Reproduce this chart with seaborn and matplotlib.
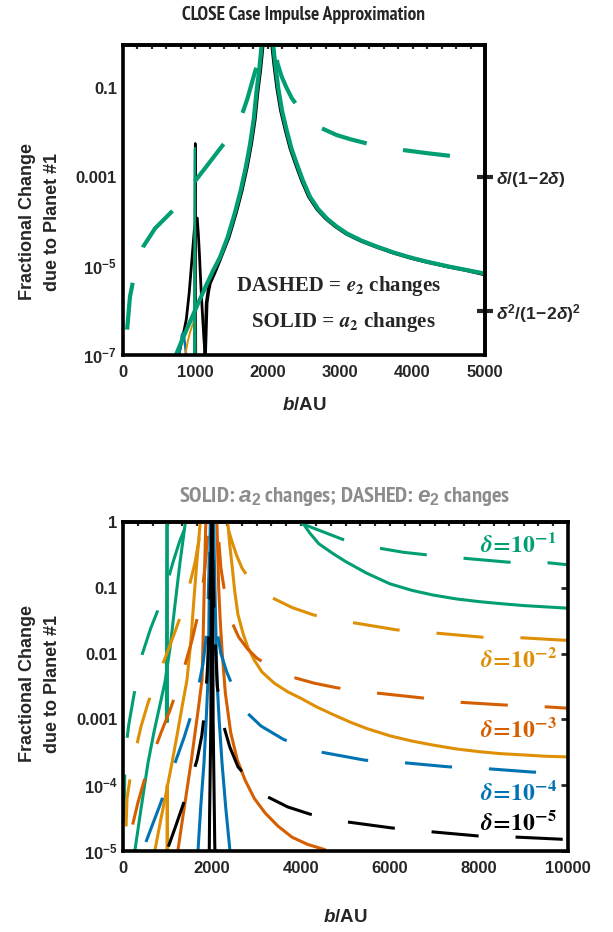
import numpy as np
import pandas as pd
import matplotlib
matplotlib.use("Agg")
import matplotlib.pyplot as plt
from matplotlib import font_manager as fm
import seaborn as sns

# ---------------- DATA (b in AU, values given as log10 of fractional change) -------------
# Top panel : CLOSE case impulse approximation
t_gs_left_b = [724, 800, 900, 1023, 1150, 1250, 1345, 1450, 1550, 1630, 1700, 1760, 1810,
               1850, 1885, 1915, 1928]
t_gs_left_lg = [-7.05, -6.75, -6.37, -5.91, -5.45, -5.10, -4.80, -4.35, -3.80, -3.30, -2.78,
                -2.25, -1.70, -1.05, -0.60, -0.10, 0.05]
t_gs_right_b = [2072, 2080, 2110, 2149, 2200, 2264, 2330, 2402, 2490, 2586, 2700, 2820, 2954,
                3100, 3300, 3506, 3750, 4000, 4196, 4500, 4750, 5000]
t_gs_right_lg = [0.05, -0.05, -0.50, -1.00, -1.50, -1.94, -2.35, -2.69, -3.08, -3.44, -3.72,
                 -3.93, -4.11, -4.27, -4.43, -4.56, -4.70, -4.82, -4.90, -5.01, -5.09, -5.17]
t_ks_left_b = [1138, 1150, 1161, 1185, 1207, 1270, 1345, 1465, 1565, 1645, 1715, 1775, 1825,
               1865, 1900, 1930, 1942]
t_ks_left_lg = [-7.05, -6.40, -5.83, -5.55, -5.38, -5.15, -4.85, -4.35, -3.80, -3.30, -2.78,
                -2.25, -1.70, -1.05, -0.60, -0.10, 0.05]
t_ks_right_b = [2058, 2065, 2095, 2134, 2185, 2249, 2315, 2387, 2475, 2571, 2685, 2805, 2939,
                3085, 3285, 3491, 3735, 3985, 4181, 4485, 4735, 5000]
t_ks_right_lg = [0.05, -0.05, -0.50, -1.00, -1.50, -1.94, -2.35, -2.69, -3.08, -3.44, -3.72,
                 -3.93, -4.11, -4.27, -4.43, -4.56, -4.70, -4.82, -4.90, -5.01, -5.09, -5.19]
t_k_hump_b = [770, 830, 880, 920, 950, 975, 990, 1010, 1030, 1045, 1060, 1080, 1100, 1120, 1140]
t_k_hump_lg = [-7.05, -6.60, -6.20, -5.60, -5.00, -4.50, -4.20, -3.98, -3.92, -4.25, -4.70,
               -5.40, -6.00, -6.55, -7.05]
t_k_spike_b = [992, 1003, 1012]
t_k_spike_lg = [-7.05, -2.24, -7.05]
t_o_spike_b = [860, 900, 930, 960, 980, 995, 1000, 1004]
t_o_spike_lg = [-7.05, -6.70, -6.50, -6.35, -6.25, -5.90, -2.35, -7.05]
t_g_spike_b = [985, 997, 1006]
t_g_spike_lg = [-7.05, -2.35, -7.05]
t_b_hump_b = [780, 800, 820, 835, 850, 865, 880]
t_b_hump_lg = [-7.05, -6.75, -6.55, -6.50, -6.62, -6.80, -7.05]
t_gd_left_b = [20, 34, 60, 103, 180, 287, 450, 701, 900, 1138, 1350, 1598, 1720, 1828, 1900,
               1943, 1960]
t_gd_left_lg = [-7.60, -7.20, -6.50, -5.69, -5.05, -4.56, -4.15, -3.74, -3.30, -2.80, -2.35,
                -1.83, -1.25, -0.63, -0.28, -0.06, 0.05]
t_gd_right_b = [2080, 2140, 2196, 2260, 2334, 2450, 2600, 2748, 2950, 3150, 3368, 3600, 3873,
                4200, 4517, 5000]
t_gd_right_lg = [0.05, -0.45, -0.74, -0.98, -1.22, -1.48, -1.70, -1.90, -2.05, -2.15, -2.24,
                 -2.32, -2.39, -2.46, -2.52, -2.58]

top_xticks = [0, 1000, 2000, 3000, 4000, 5000]
top_yticks = [1e-1, 1e-3, 1e-5, 1e-7]
top_ylabels = ['0.1', '0.001', r'$10^{-5}$', r'$10^{-7}$']
top_rticks = [1.0e-3, 1.0e-6]
top_rlabels = [r'$\delta/(1\!-\!2\delta)$', r'$\delta^2/(1\!-\!2\delta)^2$']

# Bottom panel : five values of delta
delta_names = ['1e-1', '1e-2', '1e-3', '1e-4', '1e-5']
delta_labels = [r'$\delta\!=\!\mathbf{10^{-1}}$', r'$\delta\!=\!\mathbf{10^{-2}}$',
                r'$\delta\!=\!\mathbf{10^{-3}}$', r'$\delta\!=\!\mathbf{10^{-4}}$',
                r'$\delta\!=\!\mathbf{10^{-5}}$']
delta_label_b = [9750, 9750, 9750, 9750, 9750]
delta_label_lg = [-0.35, -2.10, -3.16, -4.12, -4.57]

# solid (a2 changes), left branch
s_left_b = {
    '1e-1': [255, 270, 400, 562, 700, 830, 944, 1060, 1168, 1280, 1393, 1410],
    '1e-2': [700, 720, 850, 980, 1101, 1220, 1330, 1438, 1520, 1596, 1660, 1730, 1740],
    '1e-3': [1220, 1236, 1330, 1430, 1528, 1620, 1700, 1775, 1800, 1820, 1840, 1860, 1868],
    '1e-4': [1675, 1685, 1750, 1820, 1870, 1910, 1928, 1940, 1952, 1960, 1965],
    '1e-5': [1938, 1945, 1975, 1988, 1992],
}
s_left_lg = {
    '1e-1': [-5.05, -4.98, -4.38, -3.66, -3.18, -2.78, -2.43, -1.90, -1.26, -0.62, -0.05, 0.05],
    '1e-2': [-5.05, -4.98, -4.52, -4.08, -3.66, -3.22, -2.80, -2.40, -1.85, -1.16, -0.60,
             -0.05, 0.05],
    '1e-3': [-5.05, -4.98, -4.55, -4.10, -3.66, -3.20, -2.80, -2.40, -1.80, -1.16, -0.55,
             -0.05, 0.05],
    '1e-4': [-5.05, -5.00, -4.30, -3.66, -3.00, -2.40, -1.70, -1.00, -0.50, -0.05, 0.05],
    '1e-5': [-5.05, -4.50, -3.00, -0.50, 0.05],
}
# solid, right branch
s_right_b = {
    '1e-1': [3990, 4045, 4200, 4400, 4719, 5000, 5483, 6000, 6500, 6966, 7500, 8000, 8472,
             9000, 9500, 10000],
    '1e-2': [2330, 2360, 2400, 2449, 2510, 2584, 2700, 2809, 2950, 3124, 3400, 3700, 4000,
             4350, 4700, 5100, 5483, 6000, 6500, 6966, 7500, 8000, 8472, 9000, 9500, 10000],
    '1e-3': [2105, 2112, 2130, 2150, 2185, 2230, 2300, 2420, 2570, 2742, 2950, 3191, 3480,
             3798, 4150, 4539, 4620],
    '1e-4': [2035, 2040, 2050, 2065, 2085, 2112, 2160, 2225, 2310, 2404, 2415],
    '1e-5': [2008, 2012, 2025, 2062, 2068],
}
s_right_lg = {
    '1e-1': [0.05, -0.02, -0.17, -0.33, -0.48, -0.60, -0.78, -0.94, -1.04, -1.11, -1.17,
             -1.21, -1.24, -1.27, -1.29, -1.31],
    '1e-2': [0.05, -0.05, -0.35, -0.65, -1.05, -1.41, -1.70, -1.91, -2.10, -2.28, -2.45,
             -2.58, -2.68, -2.81, -2.92, -3.04, -3.14, -3.25, -3.33, -3.39, -3.45, -3.49,
             -3.52, -3.54, -3.56, -3.57],
    '1e-3': [0.05, -0.05, -0.50, -1.00, -1.50, -2.00, -2.60, -3.20, -3.62, -3.92, -4.20,
             -4.42, -4.62, -4.79, -4.90, -4.98, -5.05],
    '1e-4': [0.05, -0.05, -0.50, -1.00, -1.60, -2.40, -3.00, -3.66, -4.35, -5.00, -5.05],
    '1e-5': [0.05, -0.50, -3.00, -4.90, -5.05],
}
# dashed (e2 changes), left branch
d_left_b = {
    '1e-1': [0, 5, 30, 50, 130, 225, 320, 427, 620, 831, 980, 1124, 1270, 1416, 1430],
    '1e-2': [40, 50, 90, 170, 270, 400, 562, 750, 944, 1140, 1326, 1480, 1618, 1700, 1753,
             1765],
    '1e-3': [100, 112, 210, 337, 480, 652, 850, 1056, 1230, 1393, 1550, 1685, 1780, 1843,
             1890, 1910, 1918],
    '1e-4': [430, 450, 640, 831, 1010, 1191, 1380, 1551, 1690, 1798, 1860, 1900, 1930, 1950,
             1958],
    '1e-5': [990, 1011, 1180, 1348, 1510, 1663, 1770, 1843, 1900, 1940, 1970, 1990, 1995],
}
d_left_lg = {
    '1e-1': [-5.40, -5.00, -4.20, -3.51, -3.08, -2.71, -2.35, -2.02, -1.62, -1.26, -0.95,
             -0.61, -0.30, -0.05, 0.05],
    '1e-2': [-5.05, -5.00, -4.20, -3.85, -3.51, -3.12, -2.75, -2.40, -2.07, -1.72, -1.37,
             -1.00, -0.62, -0.30, -0.05, 0.05],
    '1e-3': [-5.05, -4.98, -4.62, -4.26, -3.92, -3.57, -3.21, -2.86, -2.52, -2.17, -1.80,
             -1.41, -1.05, -0.68, -0.30, -0.05, 0.05],
    '1e-4': [-5.05, -4.98, -4.64, -4.30, -3.96, -3.62, -3.26, -2.89, -2.52, -2.16, -1.80,
             -1.50, -0.80, -0.05, 0.05],
    '1e-5': [-5.05, -4.95, -4.63, -4.30, -3.96, -3.62, -3.25, -2.83, -2.20, -1.50, -0.70,
             -0.05, 0.05],
}
# dashed, right branch
d_right_b = {
    '1e-1': [3980, 4000, 4500, 4920, 5300, 5775, 6300, 6831, 7640, 8652, 9551, 10000],
    '1e-2': [2330, 2337, 2450, 2560, 2674, 2900, 3100, 3348, 3800, 4270, 4700, 5169, 6157,
             7056, 8067, 8966, 10000],
    '1e-3': [2125, 2130, 2165, 2200, 2300, 2404, 2600, 2800, 3011, 3400, 3820, 4300, 4809,
             5708, 6674, 7573, 8539, 9528, 10000],
    '1e-4': [1995, 2000, 2020, 2040, 2100, 2200, 2337, 2500, 2742, 3100, 3596, 4000, 4472,
             5438, 6337, 7303, 8202, 9191, 10000],
    '1e-5': [2000, 2005, 2025, 2050, 2120, 2225, 2400, 2584, 2900, 3258, 3700, 4202, 5056,
             6045, 6966, 7955, 8876, 9820, 10000],
}
d_right_lg = {
    '1e-1': [0.05, -0.02, -0.15, -0.26, -0.34, -0.40, -0.46, -0.50, -0.55, -0.61, -0.62,
             -0.65],
    '1e-2': [0.05, -0.05, -0.30, -0.52, -0.70, -0.93, -1.05, -1.15, -1.30, -1.41, -1.48,
             -1.53, -1.64, -1.69, -1.75, -1.76, -1.80],
    '1e-3': [0.05, -0.05, -0.40, -0.70, -1.13, -1.46, -1.75, -1.93, -2.07, -2.24, -2.36,
             -2.45, -2.52, -2.60, -2.67, -2.74, -2.78, -2.81, -2.83],
    '1e-4': [0.05, -0.05, -0.60, -1.00, -1.60, -2.00, -2.29, -2.55, -2.87, -3.10, -3.30,
             -3.42, -3.50, -3.62, -3.66, -3.72, -3.75, -3.80, -3.82],
    '1e-5': [0.05, -0.05, -0.80, -1.50, -2.50, -3.01, -3.42, -3.72, -3.98, -4.18, -4.33,
             -4.44, -4.56, -4.65, -4.71, -4.77, -4.79, -4.82, -4.83],
}
# narrow spikes at b ~ 1000 AU
b_g_spike1_b = [975, 985]
b_g_spike1_lg = [-3.05, 0.05]
b_g_spike2_b = [1000, 995]
b_g_spike2_lg = [-3.05, 0.05]
b_o_spike_b = [988, 995, 1003]
b_o_spike_lg = [-5.05, -4.0, -5.05]

bot_xticks = [0, 2000, 4000, 6000, 8000, 10000]
bot_yticks = [1, 1e-1, 1e-2, 1e-3, 1e-4, 1e-5]
bot_ylabels = ['1', '0.1', '0.01', '0.001', r'$10^{-4}$', r'$10^{-5}$']

# ---------------- STYLE ----------------
sns.set_style("white")
plt.rcParams.update({
    'font.family': ['Liberation Sans', 'DejaVu Sans'],
    'font.weight': 'bold',
    'mathtext.fontset': 'custom',
    'mathtext.rm': 'Liberation Sans:bold',
    'mathtext.it': 'Liberation Sans:italic:bold',
    'mathtext.bf': 'Liberation Sans:bold',
    'lines.scale_dashes': False,
    'axes.linewidth': 2.6,
    'axes.edgecolor': 'black',
})
pal = sns.color_palette('colorblind')
BLUE, ORANGE, GREEN, VERM, BLACK = pal[0], pal[1], pal[2], pal[3], 'black'
colors = {'1e-1': GREEN, '1e-2': ORANGE, '1e-3': VERM, '1e-4': BLUE, '1e-5': BLACK}
DASH_ON, DASH_OFF = 34.0, 26.6          # points
PX2PT = 72.0 / 100.0

# pixel x (in the 613 px image) where one dash of each dashed curve starts
dash_anchor_px = {
    'top_left': 143, 'top_right': 403,
    'L1e-1': 142, 'L1e-2': 163, 'L1e-3': 185, 'L1e-4': 175, 'L1e-5': 195,
    'R1e-1': 380, 'R1e-2': 353, 'R1e-3': 377, 'R1e-4': 405, 'R1e-5': 348,
}


# condensed bold sans for the panel titles, preferring real "Narrow" faces
def _rank(f):
    n = f.name.lower()
    if n == 'liberation sans narrow':
        return 0
    if 'narrow' in n:
        return 1
    if 'condensed' in n:
        return 2
    if 'condensed' in str(f.stretch):
        return 3
    return 99


cands = [f for f in fm.fontManager.ttflist
         if _rank(f) < 99 and f.style == 'normal'
         and f.weight in (600, 700, 800, 'bold', 'semibold', 'demibold')]
cands.sort(key=_rank)
if cands:
    TITLE_FP = fm.FontProperties(fname=cands[0].fname, size=13)
else:
    TITLE_FP = fm.FontProperties(family='Liberation Sans', weight='bold', size=13)


def draw(ax, b, lg, color, lw, dashed=False, z=2):
    df = pd.DataFrame({'b': b, 'v': np.power(10.0, lg)})
    kw = dict(color=color, lw=lw, zorder=z, solid_capstyle='butt',
              solid_joinstyle='round')
    if dashed:
        kw['linestyle'] = (0, (DASH_ON, DASH_OFF))
        kw['dash_capstyle'] = 'butt'
        kw['dash_joinstyle'] = 'round'
    sns.lineplot(data=df, x='b', y='v', ax=ax, sort=False, estimator=None,
                 legend=False, **kw)
    return ax.lines[-1]


fig = plt.figure(figsize=(6.13, 9.32), dpi=100)
W, H = 613.0, 932.0
ax1 = fig.add_axes([122.5 / W, 1 - 355 / H, 362.5 / W, 310 / H])
ax2 = fig.add_axes([123 / W, 1 - 851 / H, 445 / W, 329 / H])
for ax in (ax1, ax2):
    ax.set_yscale('log')
ax1.set_xlim(0, 5000)
ax1.set_ylim(1e-7, 0.94)
ax2.set_xlim(0, 10000)
ax2.set_ylim(1e-5, 1)

TICK_FS = 12
dashed_lines = {}

# ---------------- TOP PANEL ----------------
LW1 = 3.0
draw(ax1, t_k_hump_b, t_k_hump_lg, BLACK, 2.0)
draw(ax1, t_ks_left_b, t_ks_left_lg, BLACK, 2.6)
draw(ax1, t_ks_right_b, t_ks_right_lg, BLACK, 2.6)
draw(ax1, t_k_spike_b, t_k_spike_lg, BLACK, 1.8)
draw(ax1, t_b_hump_b, t_b_hump_lg, BLUE, 1.8)
draw(ax1, t_o_spike_b, t_o_spike_lg, ORANGE, 1.4)
draw(ax1, t_g_spike_b, t_g_spike_lg, GREEN, 1.4)
draw(ax1, t_gs_left_b, t_gs_left_lg, GREEN, LW1)
draw(ax1, t_gs_right_b, t_gs_right_lg, GREEN, LW1)
dashed_lines['top_left'] = (ax1, draw(ax1, t_gd_left_b, t_gd_left_lg, GREEN, LW1, dashed=True))
dashed_lines['top_right'] = (ax1, draw(ax1, t_gd_right_b, t_gd_right_lg, GREEN, LW1,
                                       dashed=True))

ax1.set_xlim(0, 5000)
ax1.set_ylim(1e-7, 0.94)
ax1.set_xticks(top_xticks)
ax1.set_xticklabels([str(t) for t in top_xticks])
ax1.set_yticks(top_yticks)
ax1.set_yticklabels(top_ylabels)
ax1.yaxis.set_minor_locator(matplotlib.ticker.NullLocator())
ax1.tick_params(axis='both', which='major', direction='in', length=5, width=2,
                labelsize=TICK_FS, top=False, right=False)
ax1.tick_params(axis='x', pad=7)
ax1.tick_params(axis='y', pad=4)
ax1.set_xlabel('')
ax1.set_ylabel('')

sec1 = ax1.secondary_xaxis('top')
sec1.set_xticks(np.arange(0, 5001, 200))
sec1.tick_params(direction='in', length=3, width=1.6, labeltop=False)
sec1.spines['top'].set_linewidth(2.6)

sr1 = ax1.secondary_yaxis('right')
sr1.set_yticks(top_rticks)
sr1.set_yticklabels(top_rlabels)
sr1.yaxis.set_minor_locator(matplotlib.ticker.NullLocator())
sr1.tick_params(direction='inout', length=12, width=3, labelsize=12.5, pad=2)
sr1.spines['right'].set_linewidth(2.6)

ax1.text(3080, 10 ** -5.45, 'DASHED = ', ha='right', va='center', fontsize=15,
         family='Liberation Serif', weight='bold')
ax1.text(3080, 10 ** -5.45, r'$e_{\mathbf{2}}$ changes', ha='left', va='center',
         fontsize=15, family='Liberation Serif', weight='bold', math_fontfamily='stix')
ax1.text(2990, 10 ** -6.25, 'SOLID = ', ha='right', va='center', fontsize=15,
         family='Liberation Serif', weight='bold')
ax1.text(2990, 10 ** -6.25, r'$a_{\mathbf{2}}$ changes', ha='left', va='center',
         fontsize=15, family='Liberation Serif', weight='bold', math_fontfamily='stix')

title1 = fig.text(304 / W, 1 - 15 / H, 'CLOSE Case Impulse Approximation', ha='center',
                  va='center', fontproperties=TITLE_FP.copy())
fig.text(304 / W, 1 - 406 / H, r'$b$/AU', ha='center', va='center', fontsize=13.5,
         weight='bold')
fig.text(40 / W, 1 - 222 / H, 'Fractional Change\ndue to Planet #1', rotation=90,
         ha='center', va='center', fontsize=13, weight='bold', linespacing=1.55)

# ---------------- BOTTOM PANEL ----------------
LW2 = 2.2
for name in delta_names:
    c = colors[name]
    draw(ax2, s_left_b[name], s_left_lg[name], c, LW2)
    draw(ax2, s_right_b[name], s_right_lg[name], c, LW2)
    dashed_lines['L' + name] = (ax2, draw(ax2, d_left_b[name], d_left_lg[name], c, LW2,
                                          dashed=True))
    dashed_lines['R' + name] = (ax2, draw(ax2, d_right_b[name], d_right_lg[name], c, LW2,
                                          dashed=True))
    if name == '1e-1':
        draw(ax2, b_g_spike1_b, b_g_spike1_lg, GREEN, LW2)
        draw(ax2, b_g_spike2_b, b_g_spike2_lg, GREEN, LW2)
    if name == '1e-2':
        draw(ax2, b_o_spike_b, b_o_spike_lg, ORANGE, LW2)

for name, lab, bx, ly in zip(delta_names, delta_labels, delta_label_b, delta_label_lg):
    ax2.text(bx, 10 ** ly, lab, ha='right', va='center', fontsize=17,
             color=colors[name], math_fontfamily='stix')

ax2.set_xlim(0, 10000)
ax2.set_ylim(1e-5, 1)
ax2.set_xticks(bot_xticks)
ax2.set_xticklabels([str(t) for t in bot_xticks])
ax2.set_yticks(bot_yticks)
ax2.set_yticklabels(bot_ylabels)
ax2.yaxis.set_minor_locator(matplotlib.ticker.NullLocator())
ax2.tick_params(axis='both', which='major', direction='in', length=5, width=2,
                labelsize=TICK_FS, top=False, right=True)
ax2.tick_params(axis='x', pad=7)
ax2.tick_params(axis='y', pad=4)
ax2.set_xlabel('')
ax2.set_ylabel('')

sec2 = ax2.secondary_xaxis('top')
sec2.set_xticks(np.arange(0, 10001, 10000 / 30))
sec2.tick_params(direction='in', length=3, width=1.6, labeltop=False)
sec2.spines['top'].set_linewidth(2.6)

title2 = fig.text(345 / W, 1 - 497 / H, r'SOLID: $a_2$ changes; DASHED: $e_2$ changes',
                  ha='center', va='center', fontproperties=TITLE_FP.copy(),
                  color='#8c8c8c')
fig.text(345 / W, 1 - 917 / H, r'$b$/AU', ha='center', va='center', fontsize=13.5,
         weight='bold')
fig.text(40 / W, 1 - 684 / H, 'Fractional Change\ndue to Planet #1', rotation=90,
         ha='center', va='center', fontsize=13, weight='bold', linespacing=1.55)

# fit the two panel titles to the widths they take in the reference
fig.canvas.draw()
rend = fig.canvas.get_renderer()
for t, target in ((title1, 242.0), (title2, 330.0)):
    w = t.get_window_extent(renderer=rend).width
    t.set_fontsize(t.get_fontsize() * target / w)

# set the dash phase of each dashed curve so a dash starts where it does in the reference
period = DASH_ON + DASH_OFF
for key, (ax, line) in dashed_lines.items():
    xy = ax.transData.transform(line.get_xydata())
    seg = np.hypot(np.diff(xy[:, 0]), np.diff(xy[:, 1]))
    s = np.concatenate([[0.0], np.cumsum(seg)])
    s0 = np.interp(dash_anchor_px[key], xy[:, 0], s) * PX2PT
    line.set_linestyle(((-s0) % period, (DASH_ON, DASH_OFF)))

fig.savefig('out.png', dpi=100)
